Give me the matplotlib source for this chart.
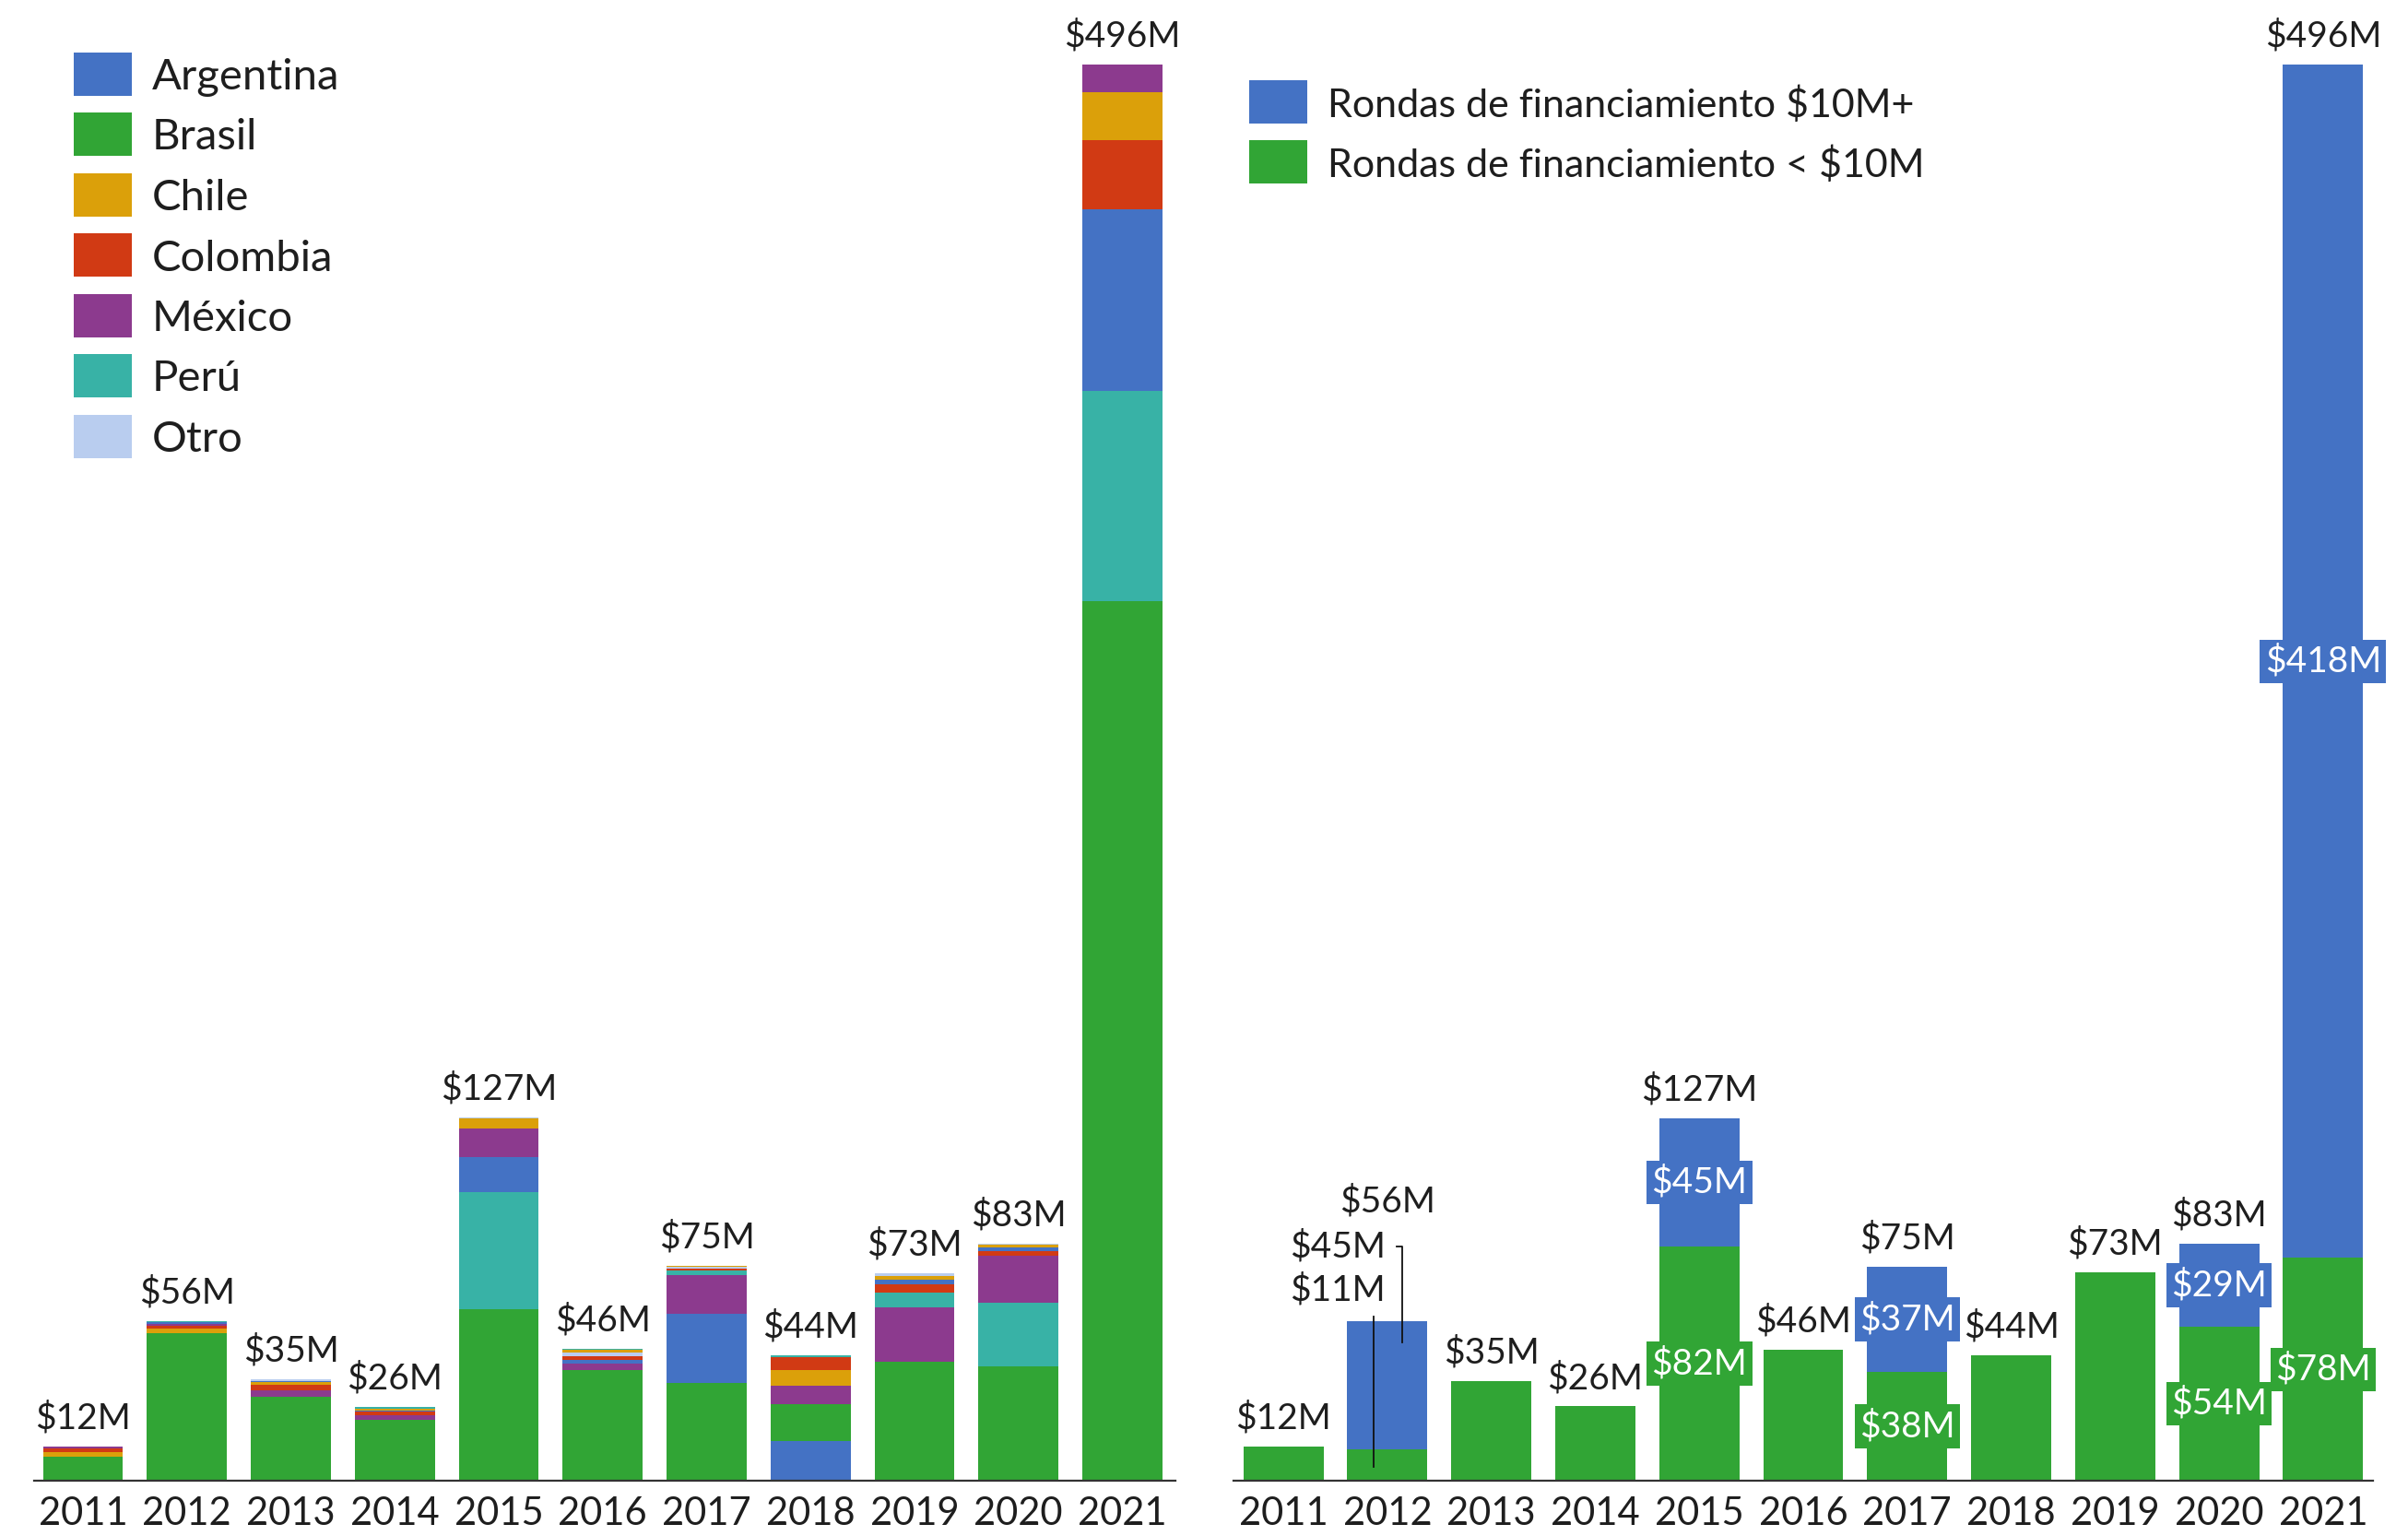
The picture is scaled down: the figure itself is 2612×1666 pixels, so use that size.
import numpy as np
import matplotlib.pyplot as plt
from matplotlib.patches import Rectangle

plt.rcParams['font.family'] = ['Lato', 'DejaVu Sans']

#---- data (millions USD) ----
years = ['2011', '2012', '2013', '2014', '2015', '2016', '2017', '2018', '2019', '2020', '2021']
countries = ['Argentina', 'Brasil', 'Chile', 'Colombia', 'México', 'Perú', 'Otro']

argentina = [0.2, 0.5, 0.6, 0.5, 12.1, 1.4, 24.2, 13.8, 1.5, 1.3, 63.5]
brasil    = [8.5, 51.7, 29.4, 21.3, 60.1, 38.7, 34.2, 12.9, 41.8, 40.1, 308.0]
chile     = [1.5, 1.7, 0.9, 0.5, 3.4, 1.0, 0.2, 5.4, 1.3, 0.8, 16.7]
colombia  = [1.3, 0.8, 1.9, 1.4, 0.2, 1.4, 0.7, 4.4, 2.9, 1.6, 24.4]
mexico    = [0.5, 0.8, 2.2, 1.5, 10.1, 2.2, 13.7, 6.7, 18.8, 16.7, 9.8]
peru      = [0.0, 0.3, 0.0, 0.5, 41.1, 0.4, 1.4, 0.7, 5.4, 22.1, 73.7]
otro      = [0.0, 0.2, 0.4, 0.0, 0.2, 1.1, 0.7, 0.0, 0.9, 0.4, 0.0]

totals = [12, 56, 35, 26, 127, 46, 75, 44, 73, 83, 496]

small_rounds = [12, 11, 35, 26, 82, 46, 38, 44, 73, 54, 78]   # < $10M
big_rounds   = [0, 45, 0, 0, 45, 0, 37, 0, 0, 29, 418]        # $10M+
round_labels = ['Rondas de financiamiento $10M+', 'Rondas de financiamiento < $10M']

#---- style ----
country_colors = ['#4472C4', '#31A535', '#DBA00A', '#D13A14', '#8C3A8E', '#38B2A6', '#B9CDEF']
blue = '#4472C4'
green = '#31A535'
txt = '#1e1e1e'
W, H = 2612, 1666

fig = plt.figure(figsize=(W / 100, H / 100), dpi=100)
ax1 = fig.add_axes([37 / W, 60 / H, 1238 / W, 1536 / H])
ax2 = fig.add_axes([1338 / W, 60 / H, 1236 / W, 1536 / H])

x = np.arange(len(years))
bw = 0.77


def style_axis(ax, lo, hi):
    ax.set_xlim(lo, hi)
    ax.set_ylim(0, 496)
    for s in ['top', 'right', 'left']:
        ax.spines[s].set_visible(False)
    ax.spines['bottom'].set_color('#333333')
    ax.spines['bottom'].set_linewidth(1.6)
    ax.set_yticks([])
    ax.set_xticks(x)
    ax.set_xticklabels(years, fontsize=30, color=txt)
    ax.tick_params(axis='x', length=0, pad=12)


def legend_box(labels, colors, x0, y0, pitch, fs):
    # simple hand-placed legend, pixel positions from the top-left of the figure
    for i, (lab, c) in enumerate(zip(labels, colors)):
        yc = y0 + i * pitch
        fig.add_artist(Rectangle((x0 / W, 1 - (yc + 23.5) / H), 63 / W, 47 / H,
                                 transform=fig.transFigure, facecolor=c, edgecolor='none'))
        fig.text((x0 + 85) / W, 1 - yc / H, lab, ha='left', va='center_baseline',
                 fontsize=fs, color=txt)


#---- left: by country, sorted largest at bottom ----
data = np.array([argentina, brasil, chile, colombia, mexico, peru, otro])
for j in range(len(years)):
    order = np.argsort(-data[:, j], kind='stable')
    bottom = 0
    for k in order:
        v = data[k, j]
        if v <= 0:
            continue
        ax1.bar(x[j], v, bw, bottom=bottom, color=country_colors[k], linewidth=0)
        bottom += v
    ax1.annotate('$%dM' % totals[j], (x[j], bottom), xytext=(0, 14), textcoords='offset points',
                 ha='center', va='baseline', fontsize=28, color=txt, annotation_clip=False)

style_axis(ax1, -0.47, 10.51)
legend_box(countries, country_colors, 80, 80, 65.5, 34)

#---- right: by round size ----
ax2.bar(x, small_rounds, bw, color=green, linewidth=0)
ax2.bar(x, big_rounds, bw, bottom=small_rounds, color=blue, linewidth=0)
style_axis(ax2, -0.48, 10.48)

for j in range(len(years)):
    s, b = small_rounds[j], big_rounds[j]
    top = s + b
    if b > 0 and s >= 20:
        # labels inside the segments
        ax2.text(x[j], s / 2, '$%dM' % s, ha='center', va='center', fontsize=28, color='white',
                 bbox=dict(boxstyle='square,pad=0.14', fc=green, ec='none'))
        ax2.text(x[j], s + b / 2, '$%dM' % b, ha='center', va='center', fontsize=28, color='white',
                 bbox=dict(boxstyle='square,pad=0.14', fc=blue, ec='none'))
        ax2.annotate('$%dM' % top, (x[j], top), xytext=(0, 14), textcoords='offset points',
                     ha='center', va='baseline', fontsize=28, color=txt, annotation_clip=False)
    elif b > 0:
        # segments too thin: call-out labels with leader lines
        ax2.text(x[j], 94, '$%dM' % top, ha='center', va='baseline', fontsize=28, color=txt)
        ax2.text(x[j] - 0.02, 82, '$%dM' % b, ha='right', va='center', fontsize=28, color=txt)
        ax2.text(x[j] - 0.02, 66.7, '$%dM' % s, ha='right', va='center', fontsize=28, color=txt)
        ax2.plot([x[j] + 0.09, x[j] + 0.14, x[j] + 0.14], [82, 82, s + b * 0.83],
                 color='#111111', lw=1.3)
        ax2.plot([x[j] - 0.13, x[j] - 0.13], [top + 1.6, s * 0.44], color='#111111', lw=1.3)
    else:
        ax2.annotate('$%dM' % top, (x[j], top), xytext=(0, 14), textcoords='offset points',
                     ha='center', va='baseline', fontsize=28, color=txt, annotation_clip=False)

legend_box(round_labels, [blue, green], 1355, 110, 65, 31)

fig.savefig('out.png', dpi=100, facecolor='white')
